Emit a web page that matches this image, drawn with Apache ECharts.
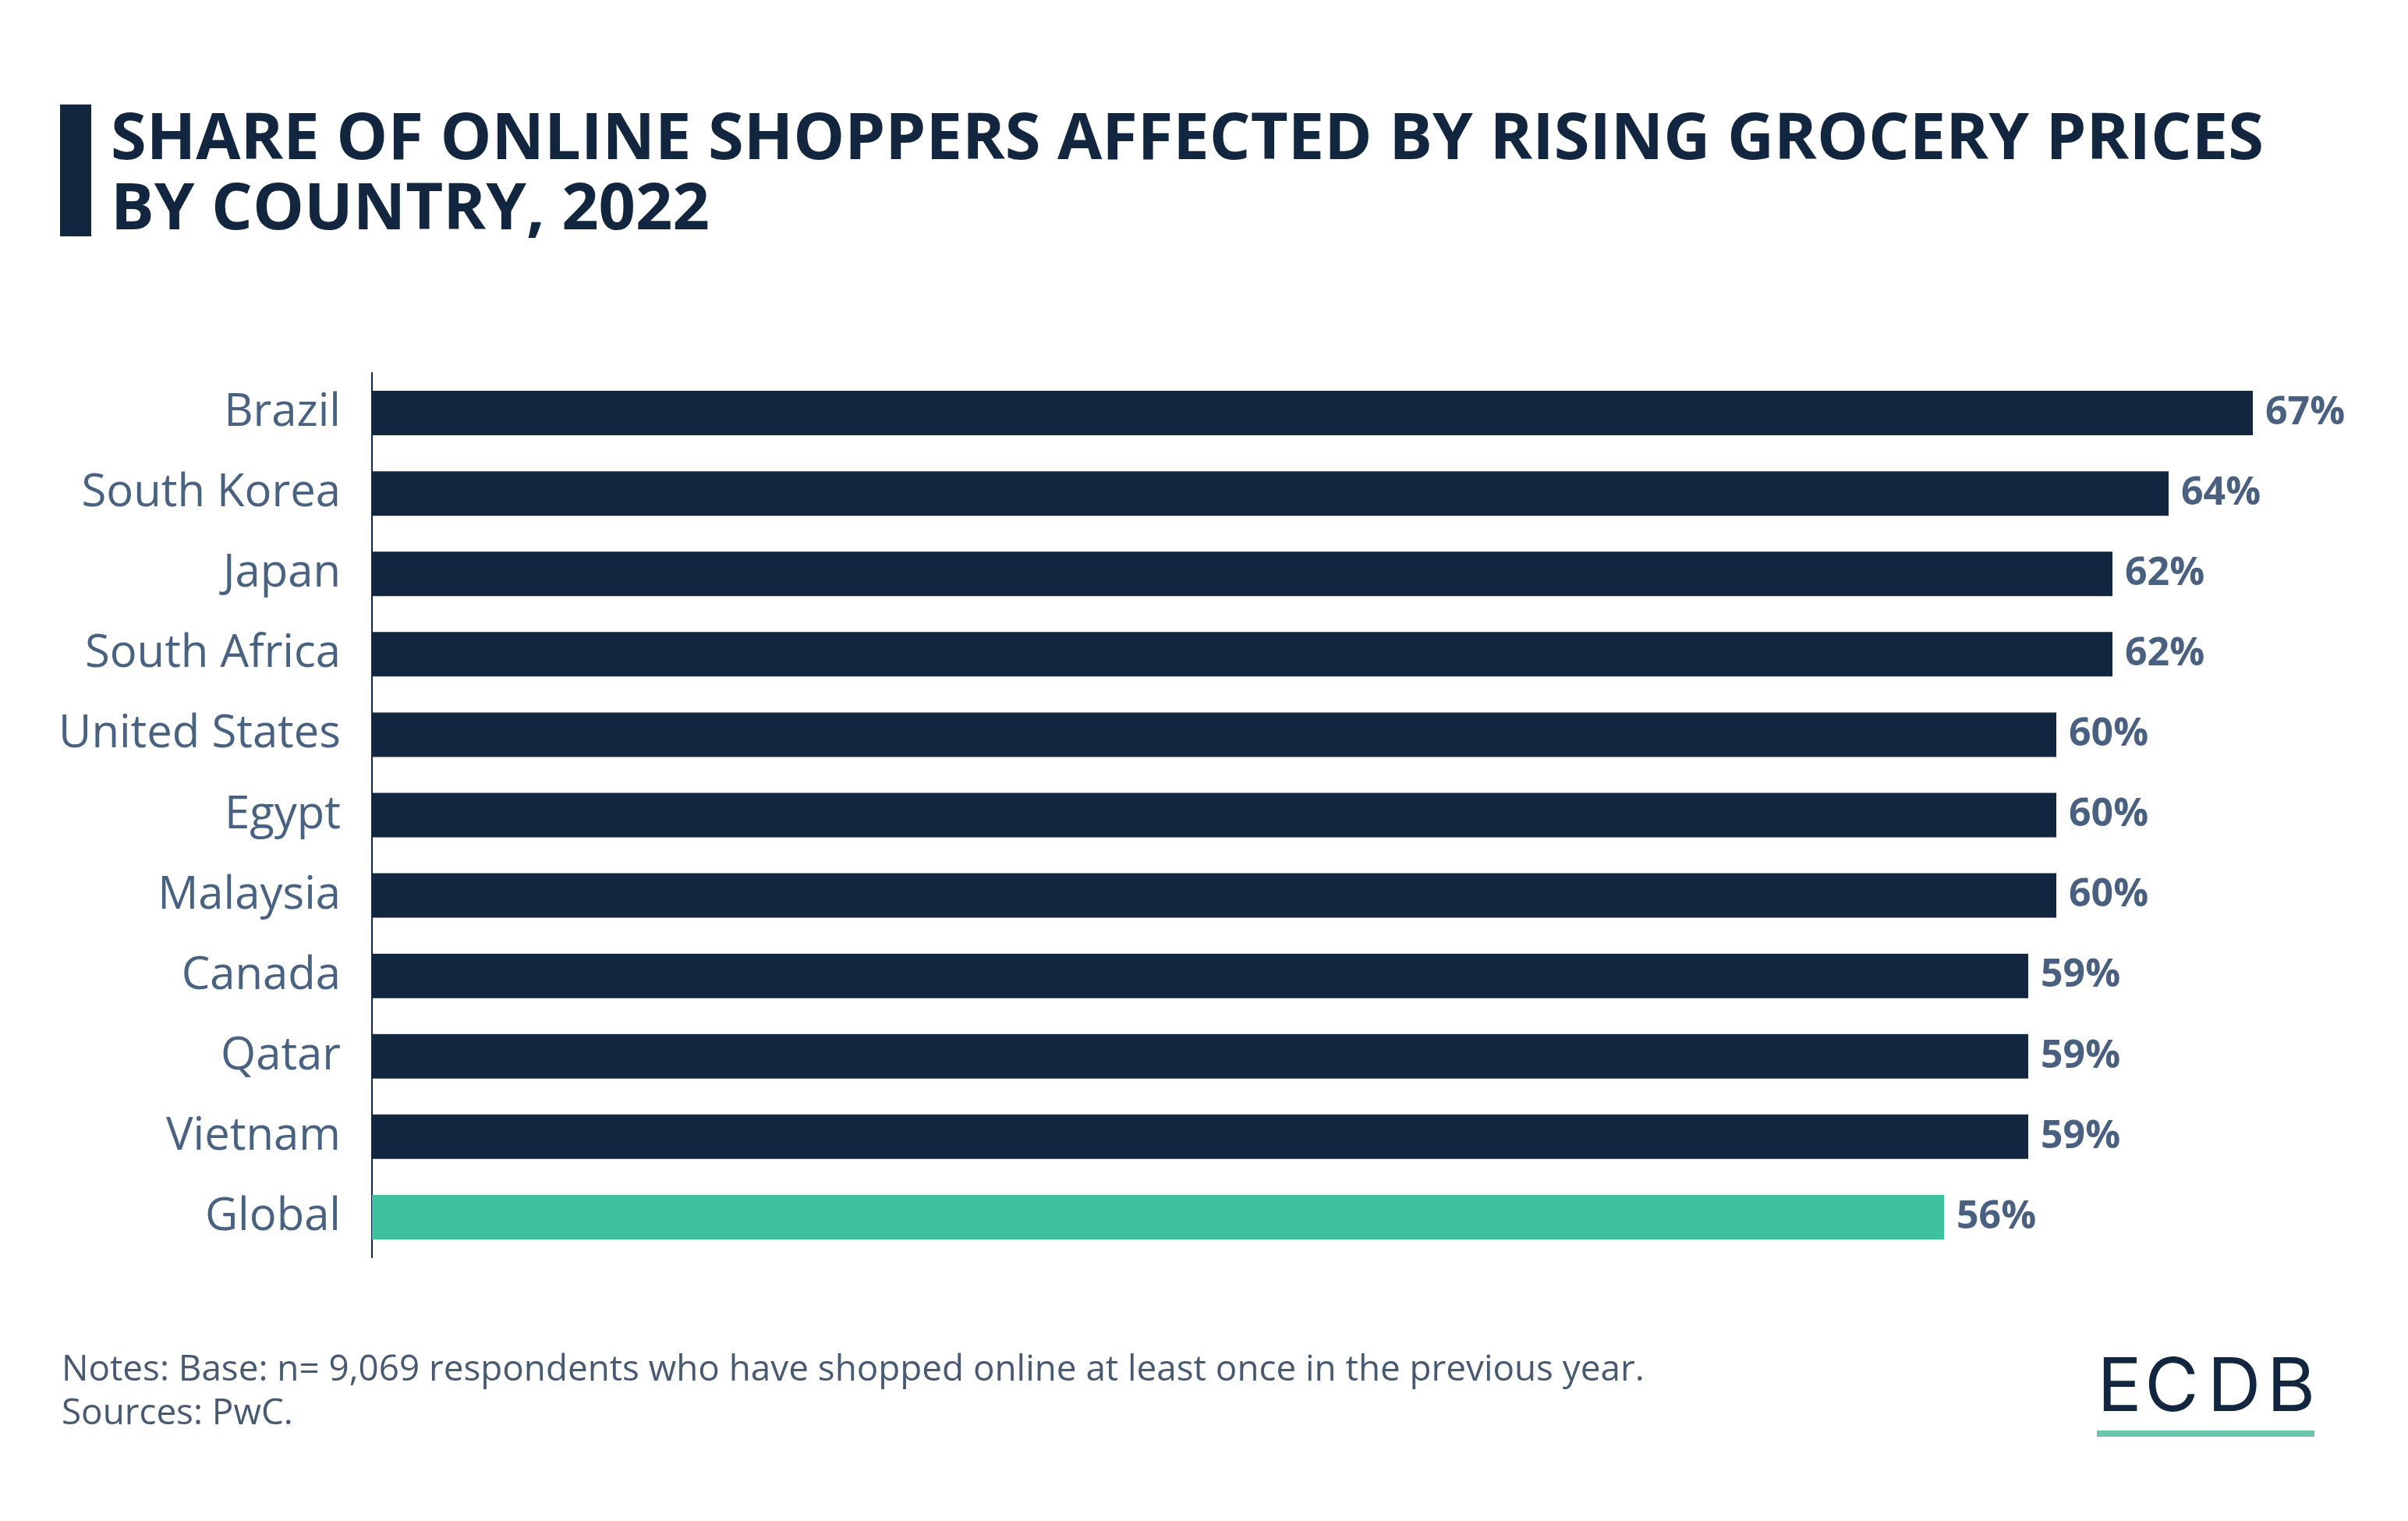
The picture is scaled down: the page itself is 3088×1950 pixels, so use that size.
<!DOCTYPE html>
<html>
<head>
<meta charset="utf-8">
<script src="https://cdn.jsdelivr.net/npm/echarts@6/dist/echarts.min.js"></script>
<style>
html,body{margin:0;padding:0;background:#fff;}
#chart{width:3088px;height:1950px;}
</style>
</head>
<body>
<div id="chart"></div>
<script>
const categories = ['Brazil','South Korea','Japan','South Africa','United States','Egypt','Malaysia','Canada','Qatar','Vietnam','Global'];
const values = [67,64,62,62,60,60,60,59,59,59,56];
const highlight = 'Global';
const titleLines = ['SHARE OF ONLINE SHOPPERS AFFECTED BY RISING GROCERY PRICES','BY COUNTRY, 2022'];
const notes = ['Notes: Base: n= 9,069 respondents who have shopped online at least once in the previous year.','Sources: PwC.'];
const logoLetters = ['E','C','D','B'];

const DARK = '#12263f';
const GREEN = '#3ec19f';
const LABEL = '#4a6282';

const logoCenters = [2718, 2785, 2865, 2938];

const chart = echarts.init(document.getElementById('chart'), null, {renderer:'canvas'});
chart.setOption({
  backgroundColor:'#ffffff',
  animation:false,
  grid:{left:477, top:478, width:2520, height:1134, containLabel:false},
  xAxis:{type:'value', min:0, max:70, show:false},
  yAxis:{
    type:'category', inverse:true, data:categories,
    axisLine:{show:true, lineStyle:{color:DARK, width:2}},
    axisTick:{show:false},
    axisLabel:{fontFamily:'Open Sans', fontSize:58, color:LABEL, margin:40, padding:[8,0,0,0]}
  },
  series:[{
    type:'bar', barWidth:57,
    data: values.map((v,i)=>({value:v, itemStyle:{color: categories[i]===highlight?GREEN:DARK}})),
    label:{show:true, position:'right', distance:16, formatter:'{c}%', fontFamily:'Open Sans', fontWeight:'bold', fontSize:50, color:'#4a6080', padding:[7,0,0,0]}
  }],
  graphic:[
    {type:'rect', shape:{x:77,y:134,width:40,height:169}, style:{fill:'#13263f'}},
    {type:'text', x:142, y:180, style:{text:titleLines[0], fontFamily:'Open Sans', fontWeight:'bold', fontSize:83, fill:'#13263f', textVerticalAlign:'middle'}},
    {type:'text', x:142, y:270, style:{text:titleLines[1], fontFamily:'Open Sans', fontWeight:'bold', fontSize:83, fill:'#13263f', textVerticalAlign:'middle'}},
    {type:'text', x:79, y:1757, style:{text:notes[0], fontFamily:'Open Sans', fontSize:45.8, fill:'#475a72', textVerticalAlign:'middle'}},
    {type:'text', x:79, y:1813, style:{text:notes[1], fontFamily:'Open Sans', fontSize:45.8, fill:'#475a72', textVerticalAlign:'middle'}}
  ].concat(logoLetters.map((l,i)=>({type:'text', x:logoCenters[i], y:1780, style:{text:l, fontFamily:'Inter', fontWeight:400, fontSize:95, fill:'#13263f', textAlign:'center', textVerticalAlign:'middle'}})))
   .concat([{type:'rect', shape:{x:2689,y:1834,width:279,height:8}, style:{fill:'#6cc4ac'}}])
});
</script>
</body>
</html>
